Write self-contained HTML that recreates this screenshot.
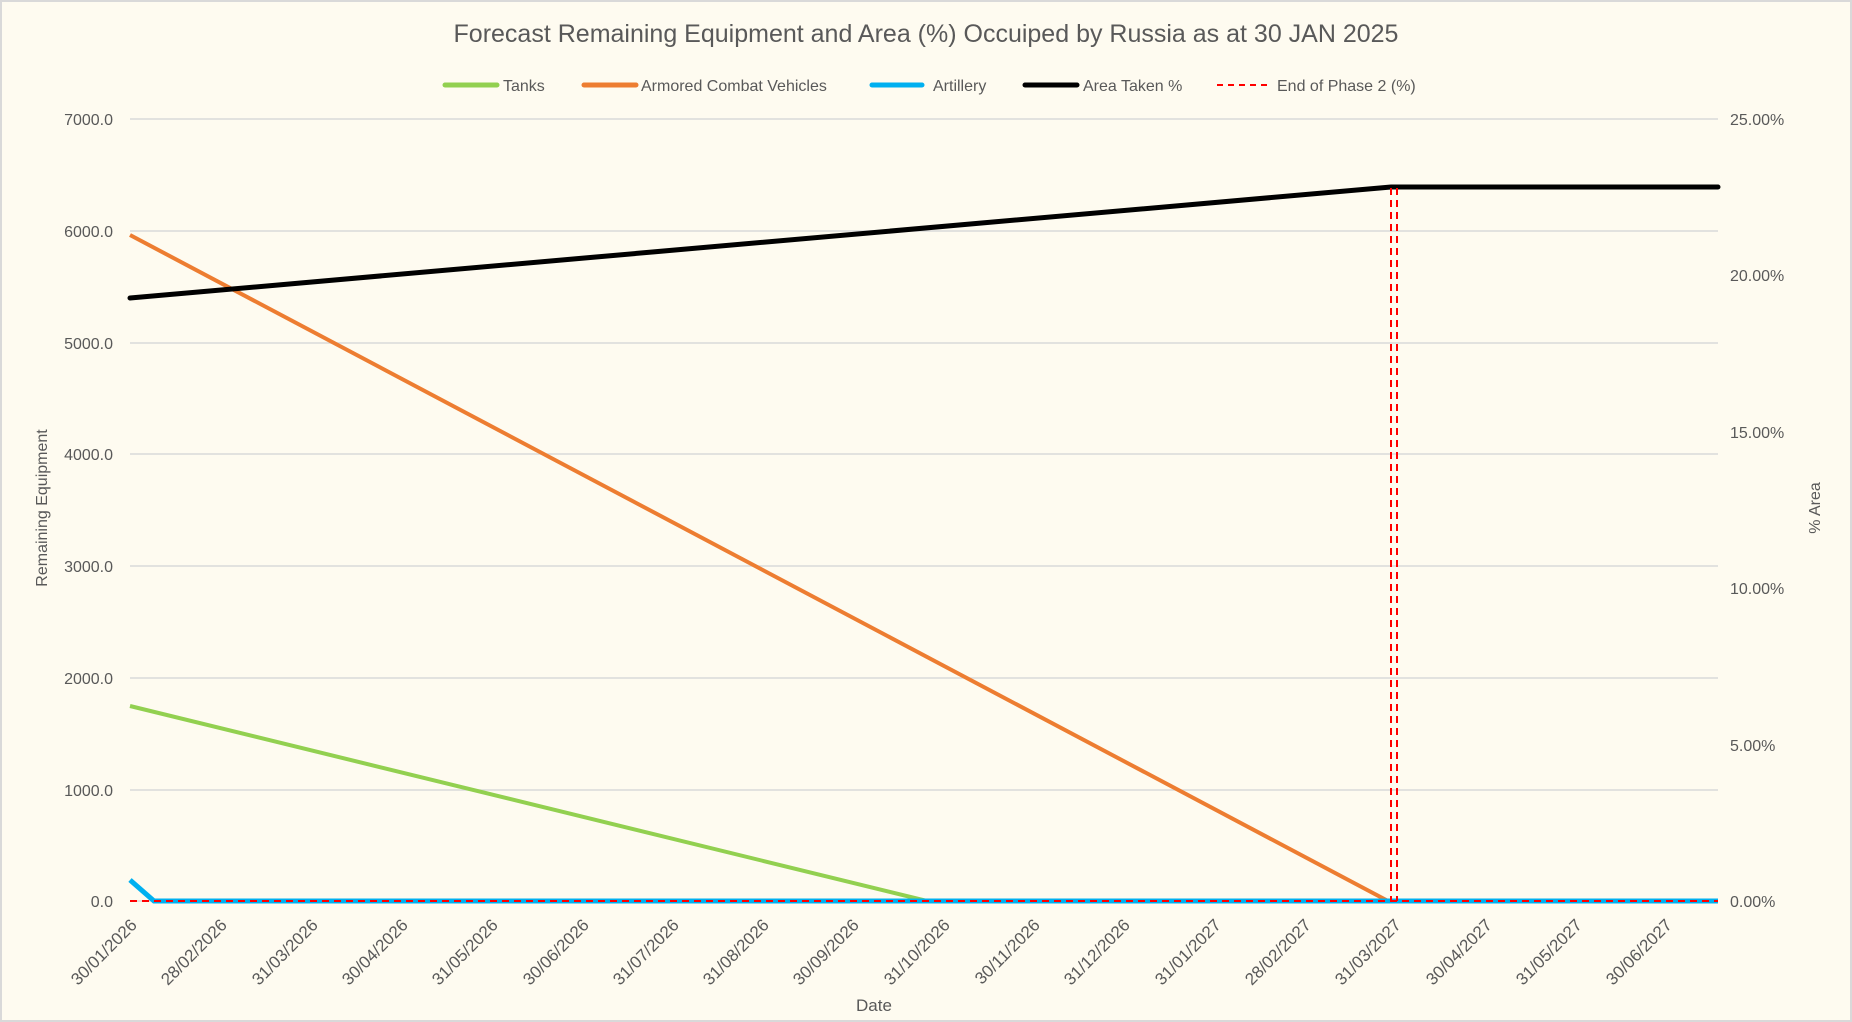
<!DOCTYPE html>
<html><head><meta charset="utf-8"><style>
html,body{margin:0;padding:0;background:#fff}
svg{display:block}
text{font-family:"Liberation Sans Narrow","Liberation Sans",sans-serif;fill:#595959}
</style></head><body>
<svg width="1852" height="1022" viewBox="0 0 1852 1022" xmlns="http://www.w3.org/2000/svg">
<rect x="1" y="1" width="1850" height="1020" fill="#fefbf0" stroke="#d9d9d9" stroke-width="2"/>
<text x="926" y="42" font-size="25" text-anchor="middle">Forecast Remaining Equipment and Area (%) Occuiped by Russia as at 30 JAN 2025</text>
<g font-size="16">
<line x1="445" y1="85" x2="497" y2="85" stroke="#92d050" stroke-width="5" stroke-linecap="round"/><text x="503" y="91">Tanks</text>
<line x1="584" y1="85" x2="636" y2="85" stroke="#ed7d31" stroke-width="5" stroke-linecap="round"/><text x="641" y="91">Armored Combat Vehicles</text>
<line x1="872" y1="85" x2="922" y2="85" stroke="#00b0f0" stroke-width="5" stroke-linecap="round"/><text x="933" y="91">Artillery</text>
<line x1="1025" y1="85" x2="1077" y2="85" stroke="#000" stroke-width="5" stroke-linecap="round"/><text x="1083" y="91">Area Taken %</text>
<line x1="1217" y1="85" x2="1270" y2="85" stroke="#ff0000" stroke-width="2" stroke-dasharray="6,5"/><text x="1277" y="91">End of Phase 2 (%)</text>
</g>
<g stroke="#d9d9d9" stroke-width="1.5">
<line x1="130" y1="119" x2="1718" y2="119"/><line x1="130" y1="231" x2="1718" y2="231"/>
<line x1="130" y1="343" x2="1718" y2="343"/><line x1="130" y1="454" x2="1718" y2="454"/>
<line x1="130" y1="566" x2="1718" y2="566"/><line x1="130" y1="678" x2="1718" y2="678"/>
<line x1="130" y1="790" x2="1718" y2="790"/><line x1="130" y1="901" x2="1718" y2="901"/>
</g>
<g font-size="16" text-anchor="end">
<text x="113" y="125">7000.0</text><text x="113" y="237">6000.0</text><text x="113" y="349">5000.0</text>
<text x="113" y="460">4000.0</text><text x="113" y="572">3000.0</text><text x="113" y="684">2000.0</text>
<text x="113" y="796">1000.0</text><text x="113" y="907">0.0</text>
</g>
<g font-size="16">
<text x="1730" y="125">25.00%</text><text x="1730" y="281">20.00%</text><text x="1730" y="438">15.00%</text>
<text x="1730" y="594">10.00%</text><text x="1730" y="751">5.00%</text><text x="1730" y="907">0.00%</text>
</g>
<text font-size="16" transform="translate(47,508) rotate(-90)" text-anchor="middle">Remaining Equipment</text>
<text font-size="16" transform="translate(1820,508) rotate(-90)" text-anchor="middle">% Area</text>
<text font-size="17" x="874" y="1011" text-anchor="middle">Date</text>
<g font-size="17" text-anchor="end">
<text transform="translate(138,926) rotate(-45)">30/01/2026</text>
<text transform="translate(228,926) rotate(-45)">28/02/2026</text>
<text transform="translate(319,926) rotate(-45)">31/03/2026</text>
<text transform="translate(409,926) rotate(-45)">30/04/2026</text>
<text transform="translate(499,926) rotate(-45)">31/05/2026</text>
<text transform="translate(590,926) rotate(-45)">30/06/2026</text>
<text transform="translate(680,926) rotate(-45)">31/07/2026</text>
<text transform="translate(770,926) rotate(-45)">31/08/2026</text>
<text transform="translate(860,926) rotate(-45)">30/09/2026</text>
<text transform="translate(951,926) rotate(-45)">31/10/2026</text>
<text transform="translate(1041,926) rotate(-45)">30/11/2026</text>
<text transform="translate(1131,926) rotate(-45)">31/12/2026</text>
<text transform="translate(1222,926) rotate(-45)">31/01/2027</text>
<text transform="translate(1312,926) rotate(-45)">28/02/2027</text>
<text transform="translate(1402,926) rotate(-45)">31/03/2027</text>
<text transform="translate(1493,926) rotate(-45)">30/04/2027</text>
<text transform="translate(1583,926) rotate(-45)">31/05/2027</text>
<text transform="translate(1673,926) rotate(-45)">30/06/2027</text>
</g>
<polyline points="130,235 1388,901" fill="none" stroke="#ed7d31" stroke-width="4"/>
<polyline points="130,706 927,901" fill="none" stroke="#92d050" stroke-width="4"/>
<polyline points="130,880 154,901 1718,901" fill="none" stroke="#00b0f0" stroke-width="5"/>
<polyline points="130,298 1391,187 1718,187" fill="none" stroke="#000" stroke-width="5" stroke-linecap="round"/>
<g stroke="#ff0000" stroke-width="2" stroke-dasharray="7,5" fill="none">
<line x1="130" y1="901" x2="1718" y2="901"/>
<line x1="1391" y1="188" x2="1391" y2="901"/>
<line x1="1397" y1="188" x2="1397" y2="901"/>
</g>
</svg>
</body></html>
